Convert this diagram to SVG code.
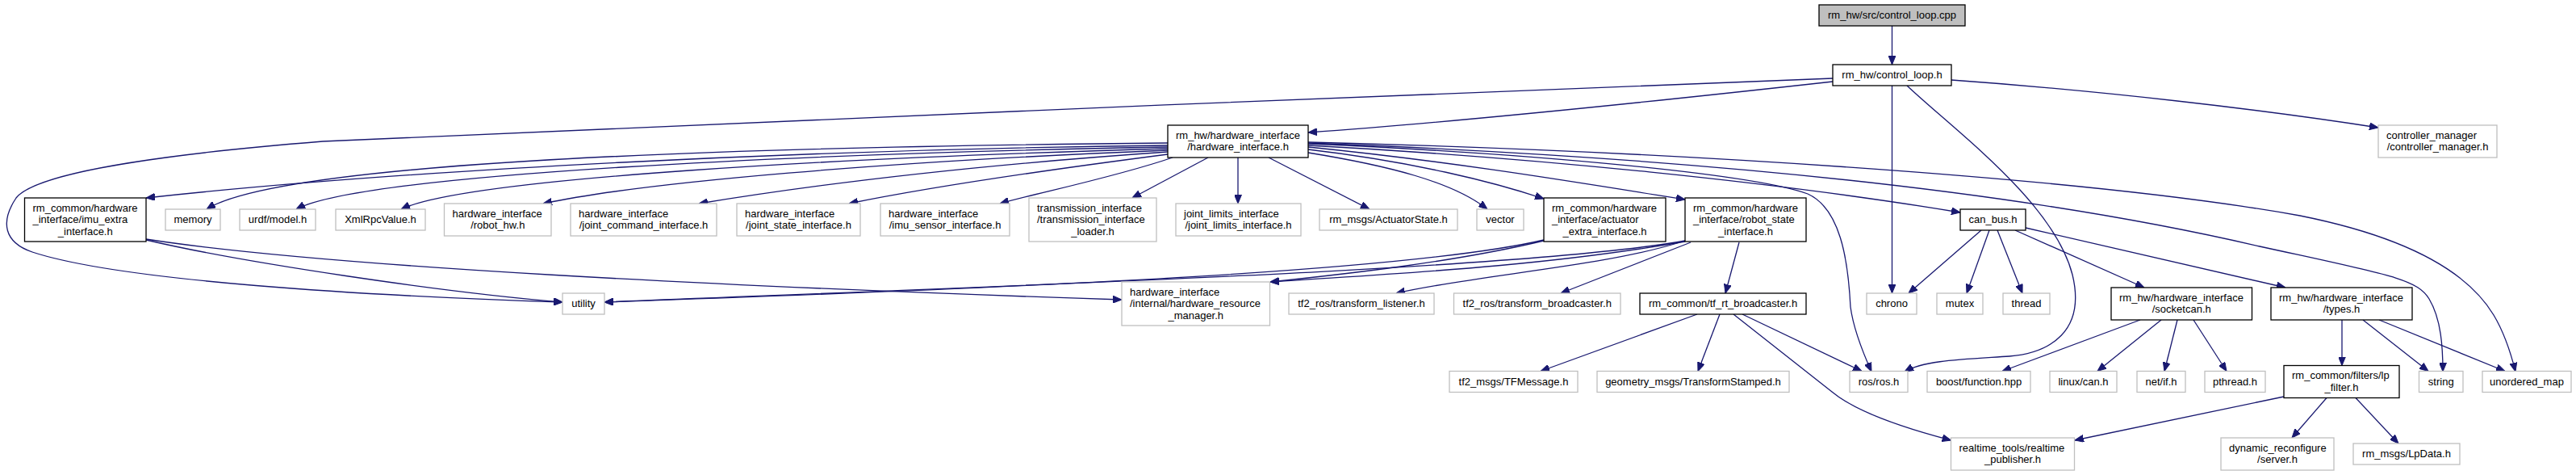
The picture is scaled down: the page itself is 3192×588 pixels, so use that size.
<svg xmlns="http://www.w3.org/2000/svg" width="3192" height="588" viewBox="0 0 3192 588">
<style>
rect{fill:#fff;stroke-width:1.3}
.g{stroke:#bfbfbf}
.d{stroke:#000}
.r{fill:#bfbfbf;stroke:#000}
text{font-family:"Liberation Sans",Arial,sans-serif;font-size:13px;fill:#000}
.m{text-anchor:middle}
#edges path{fill:none;stroke:#191970;stroke-width:1.3;marker-end:url(#ah)}
</style>
<defs>
<marker id="ah" viewBox="0 0 11 9" refX="11" refY="4.5" markerWidth="11" markerHeight="9" markerUnits="userSpaceOnUse" orient="auto">
<path d="M0,0 L11,4.5 L0,9 Z" fill="#191970" stroke="#191970" stroke-width="1"/>
</marker>
</defs>
<rect x="0" y="0" width="3192" height="588" style="fill:#fff;stroke:none"/>
<g id="edges">
<path d="M2344.5,32 L2344.5,80"/>
<path d="M2271,101 C2100,120 1820,150 1621,164"/>
<path d="M2418,99 C2600,112 2800,135 2947,158"/>
<path d="M2344.5,106 L2344.5,363"/>
<path d="M2363,106 C2420,160 2545,250 2568,340 C2585,410 2540,437 2490,441 C2430,445 2385,446 2360,460"/>
<path d="M2271,97 C1700,120 900,150 400,175 C150,195 40,220 20,245 C0,275 5,300 40,312 C150,348 450,366 697,374"/>
<path d="M1447,180 C1000,185 500,210 181,245"/>
<path d="M1447,177 C900,182 350,200 256,259"/>
<path d="M1447,182 C1000,190 450,215 367,259"/>
<path d="M1447,184 C1050,195 580,220 497,259"/>
<path d="M1447,186 C1100,200 800,225 673,252"/>
<path d="M1447,188 C1200,205 1000,230 866,252"/>
<path d="M1447,191 C1300,210 1150,232 1052,252"/>
<path d="M1453,195 C1380,220 1280,240 1239,252"/>
<path d="M1497,195 L1403,245"/>
<path d="M1534,195 L1534,252"/>
<path d="M1572,195 L1697,259"/>
<path d="M1621,189 C1720,205 1800,225 1843,259"/>
<path d="M1621,185 C1750,200 1850,225 1913,246"/>
<path d="M1621,182 C1800,200 1950,225 2088,247"/>
<path d="M1621,180 C1900,195 2200,225 2429,263"/>
<path d="M1621,178 C1900,190 2170,215 2240,240 C2280,258 2290,320 2293,380 C2297,410 2310,440 2319,460"/>
<path d="M1621,177 C2100,195 2500,235 2800,305 C2960,340 2995,345 3010,370 C3025,395 3027,430 3027,460"/>
<path d="M1621,176 C2100,188 2600,222 2850,267 C2990,295 3060,340 3090,390 C3105,415 3112,440 3117,460"/>
<path d="M181,297 C300,325 550,362 697,374"/>
<path d="M181,296 C400,330 900,355 1390,371"/>
<path d="M1913,297 C1750,335 1300,355 749,374"/>
<path d="M2088,298 C1900,332 1300,352 749,374"/>
<path d="M1913,298 C1800,325 1660,340 1574,349"/>
<path d="M2088,299 C1900,332 1700,340 1574,349"/>
<path d="M2088,298 C1990,330 1830,340 1730,363"/>
<path d="M2095,300 L1934,363"/>
<path d="M2155,300 L2138,363"/>
<path d="M2103,389 L1909,459.5"/>
<path d="M2131,389 L2104,459.5"/>
<path d="M2159,389 L2307,459.5"/>
<path d="M2148,389 L2270,485 C2300,510 2360,530 2417.5,545"/>
<path d="M2455,285 L2365,363"/>
<path d="M2465,285 L2437,363"/>
<path d="M2475,285 L2506,363"/>
<path d="M2497,285 L2657,356"/>
<path d="M2510,282 L2832,356"/>
<path d="M2652,396 L2481,459.5"/>
<path d="M2678,396 L2599,459.5"/>
<path d="M2698,396 L2682,459.5"/>
<path d="M2718,396 L2759,459.5"/>
<path d="M2902,396 L2902,452.5"/>
<path d="M2928,396 L3009,459.5"/>
<path d="M2948,396 L3104,459.5"/>
<path d="M2830,491 L2571,545"/>
<path d="M2883,492.5 L2840,542"/>
<path d="M2919,492.5 L2972,549"/>
</g>
<g id="n_root"><rect class="r" x="2254" y="6" width="181" height="26"/><text class="m" x="2344.5" y="23">rm_hw/src/control_loop.cpp</text></g>
<g id="n_control_loop_h"><rect class="d" x="2271" y="80" width="147" height="26"/><text class="m" x="2344.5" y="97">rm_hw/control_loop.h</text></g>
<g id="n_hardware_interface_h"><rect class="d" x="1447" y="155" width="174" height="40"/><text x="1457" y="171.75">rm_hw/hardware_interface</text><text class="m" x="1534" y="186.25">/hardware_interface.h</text></g>
<g id="n_controller_manager"><rect class="g" x="2947" y="155" width="147" height="40"/><text x="2957" y="171.75">controller_manager</text><text class="m" x="3020.5" y="186.25">/controller_manager.h</text></g>
<g id="n_imu_extra"><rect class="d" x="30.5" y="245" width="150.5" height="54"/><text x="40.5" y="261.5">rm_common/hardware</text><text x="40.5" y="276">_interface/imu_extra</text><text class="m" x="105.75" y="290.5">_interface.h</text></g>
<g id="n_memory"><rect class="g" x="205" y="259" width="68" height="26"/><text class="m" x="239" y="276">memory</text></g>
<g id="n_urdf"><rect class="g" x="297" y="259" width="94" height="26"/><text class="m" x="344" y="276">urdf/model.h</text></g>
<g id="n_xmlrpc"><rect class="g" x="416" y="259" width="111" height="26"/><text class="m" x="471.5" y="276">XmlRpcValue.h</text></g>
<g id="n_robot_hw"><rect class="g" x="550.5" y="252" width="132.5" height="40"/><text x="560.5" y="268.75">hardware_interface</text><text class="m" x="616.75" y="283.25">/robot_hw.h</text></g>
<g id="n_joint_command"><rect class="g" x="707" y="252" width="181" height="40"/><text x="717" y="268.75">hardware_interface</text><text class="m" x="797.5" y="283.25">/joint_command_interface.h</text></g>
<g id="n_joint_state"><rect class="g" x="913" y="252" width="153" height="40"/><text x="923" y="268.75">hardware_interface</text><text class="m" x="989.5" y="283.25">/joint_state_interface.h</text></g>
<g id="n_imu_sensor"><rect class="g" x="1091" y="252" width="160" height="40"/><text x="1101" y="268.75">hardware_interface</text><text class="m" x="1171" y="283.25">/imu_sensor_interface.h</text></g>
<g id="n_transmission"><rect class="g" x="1275" y="245" width="158" height="54"/><text x="1285" y="261.5">transmission_interface</text><text x="1285" y="276">/transmission_interface</text><text class="m" x="1354" y="290.5">_loader.h</text></g>
<g id="n_joint_limits"><rect class="g" x="1457" y="252" width="155" height="40"/><text x="1467" y="268.75">joint_limits_interface</text><text class="m" x="1534.5" y="283.25">/joint_limits_interface.h</text></g>
<g id="n_actuator_state"><rect class="g" x="1635" y="259" width="171" height="26"/><text class="m" x="1720.5" y="276">rm_msgs/ActuatorState.h</text></g>
<g id="n_vector"><rect class="g" x="1830" y="259" width="58" height="26"/><text class="m" x="1859" y="276">vector</text></g>
<g id="n_actuator_extra"><rect class="d" x="1913" y="245" width="151" height="54"/><text x="1923" y="261.5">rm_common/hardware</text><text x="1923" y="276">_interface/actuator</text><text class="m" x="1988.5" y="290.5">_extra_interface.h</text></g>
<g id="n_robot_state"><rect class="d" x="2088" y="245" width="150" height="54"/><text x="2098" y="261.5">rm_common/hardware</text><text x="2098" y="276">_interface/robot_state</text><text class="m" x="2163" y="290.5">_interface.h</text></g>
<g id="n_can_bus"><rect class="d" x="2429" y="259" width="81" height="26"/><text class="m" x="2469.5" y="276">can_bus.h</text></g>
<g id="n_utility"><rect class="g" x="697" y="363" width="52" height="26"/><text class="m" x="723" y="380">utility</text></g>
<g id="n_hw_resource_manager"><rect class="g" x="1390" y="349" width="183.5" height="54"/><text x="1400" y="365.5">hardware_interface</text><text x="1400" y="380">/internal/hardware_resource</text><text class="m" x="1481.75" y="394.5">_manager.h</text></g>
<g id="n_tf_listener"><rect class="g" x="1597" y="363" width="180" height="26"/><text class="m" x="1687" y="380">tf2_ros/transform_listener.h</text></g>
<g id="n_tf_broadcaster"><rect class="g" x="1801.5" y="363" width="206.5" height="26"/><text class="m" x="1904.75" y="380">tf2_ros/transform_broadcaster.h</text></g>
<g id="n_tf_rt"><rect class="d" x="2032" y="363" width="206" height="26"/><text class="m" x="2135" y="380">rm_common/tf_rt_broadcaster.h</text></g>
<g id="n_chrono"><rect class="g" x="2313" y="363" width="62" height="26"/><text class="m" x="2344" y="380">chrono</text></g>
<g id="n_mutex"><rect class="g" x="2400" y="363" width="57" height="26"/><text class="m" x="2428.5" y="380">mutex</text></g>
<g id="n_thread"><rect class="g" x="2482" y="363" width="58" height="26"/><text class="m" x="2511" y="380">thread</text></g>
<g id="n_socketcan"><rect class="d" x="2616" y="356" width="174.5" height="40"/><text x="2626" y="372.75">rm_hw/hardware_interface</text><text class="m" x="2703.25" y="387.25">/socketcan.h</text></g>
<g id="n_types"><rect class="d" x="2814" y="356" width="175" height="40"/><text x="2824" y="372.75">rm_hw/hardware_interface</text><text class="m" x="2901.5" y="387.25">/types.h</text></g>
<g id="n_tf2_msgs"><rect class="g" x="1796" y="459.5" width="159" height="26"/><text class="m" x="1875.5" y="476.5">tf2_msgs/TFMessage.h</text></g>
<g id="n_geometry_msgs"><rect class="g" x="1979" y="459.5" width="238" height="26"/><text class="m" x="2098" y="476.5">geometry_msgs/TransformStamped.h</text></g>
<g id="n_ros"><rect class="g" x="2292" y="459.5" width="72" height="26"/><text class="m" x="2328" y="476.5">ros/ros.h</text></g>
<g id="n_boost"><rect class="g" x="2388" y="459.5" width="128" height="26"/><text class="m" x="2452" y="476.5">boost/function.hpp</text></g>
<g id="n_linux_can"><rect class="g" x="2540" y="459.5" width="83" height="26"/><text class="m" x="2581.5" y="476.5">linux/can.h</text></g>
<g id="n_net_if"><rect class="g" x="2648" y="459.5" width="60" height="26"/><text class="m" x="2678" y="476.5">net/if.h</text></g>
<g id="n_pthread"><rect class="g" x="2732" y="459.5" width="75" height="26"/><text class="m" x="2769.5" y="476.5">pthread.h</text></g>
<g id="n_lp_filter"><rect class="d" x="2830" y="452.5" width="143" height="40"/><text x="2840" y="469.25">rm_common/filters/lp</text><text class="m" x="2901.5" y="483.75">_filter.h</text></g>
<g id="n_string"><rect class="g" x="2997.5" y="459.5" width="54.5" height="26"/><text class="m" x="3024.75" y="476.5">string</text></g>
<g id="n_unordered_map"><rect class="g" x="3076" y="459.5" width="110" height="26"/><text class="m" x="3131" y="476.5">unordered_map</text></g>
<g id="n_realtime_publisher"><rect class="g" x="2417.5" y="542" width="153" height="40"/><text x="2427.5" y="558.75">realtime_tools/realtime</text><text class="m" x="2494" y="573.25">_publisher.h</text></g>
<g id="n_dynamic_reconfigure"><rect class="g" x="2752" y="542" width="140" height="40"/><text x="2762" y="558.75">dynamic_reconfigure</text><text class="m" x="2822" y="573.25">/server.h</text></g>
<g id="n_lpdata"><rect class="g" x="2916" y="549" width="132" height="26"/><text class="m" x="2982" y="566">rm_msgs/LpData.h</text></g>
</svg>
